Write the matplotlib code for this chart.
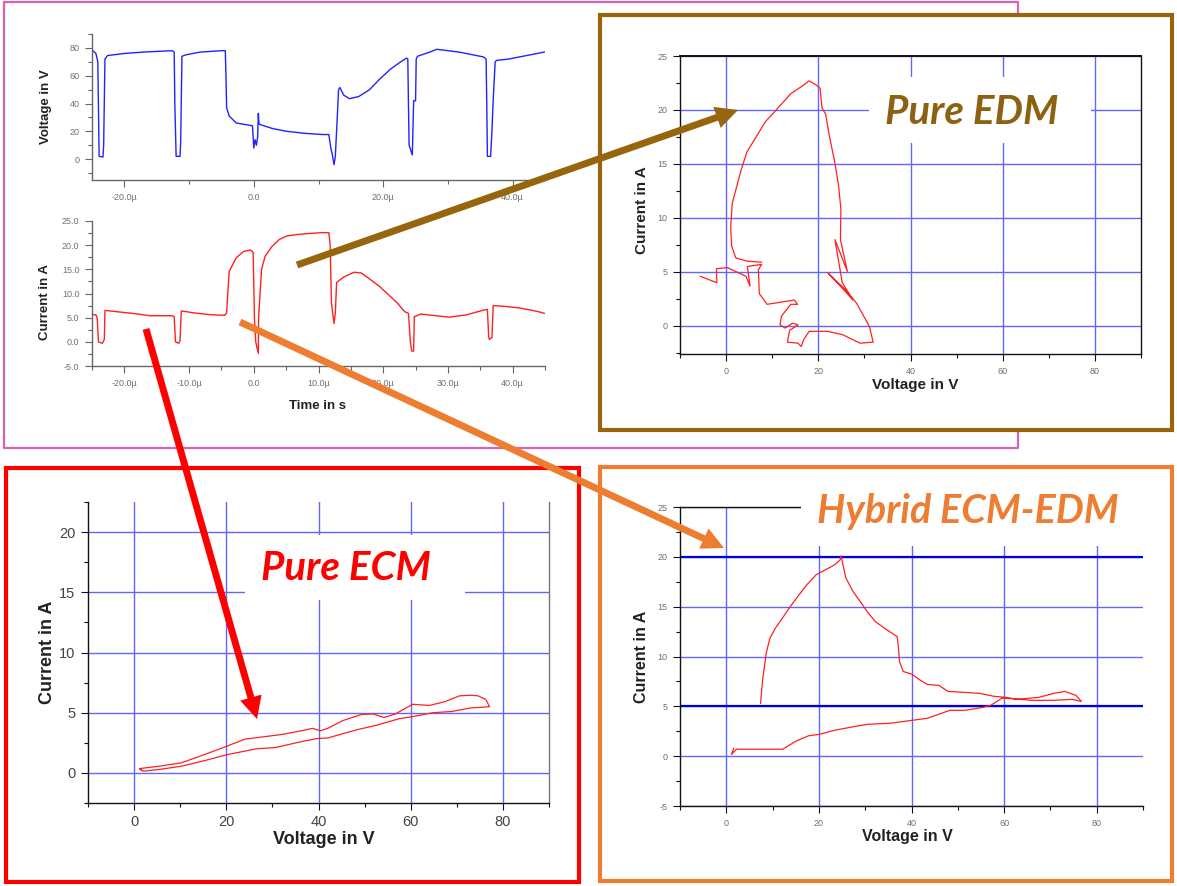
import matplotlib
matplotlib.use("Agg")
import matplotlib.pyplot as plt
from matplotlib.patches import Rectangle, FancyArrowPatch, ArrowStyle
from matplotlib.lines import Line2D
from matplotlib.ticker import MultipleLocator

plt.rcParams["font.family"] = ["Liberation Sans", "DejaVu Sans"]
plt.rcParams["axes.unicode_minus"] = False

W, H = 1177, 886

# --- time traces (t in microseconds) ---
t_volt = [-25.0, -24.4, -24.1, -23.9, -23.3, -23.2, -23.0, -22.6, -20.0, -17.1, -12.6, -12.3, -12.2, -12.0,
          -11.4, -11.3, -11.1, -10.5, -8.3, -4.9, -4.4, -4.3, -4.2, -3.8, -2.7, -1.0, -0.2, 0.0, 0.2, 0.4,
          0.6, 0.7, 0.8, 0.9, 2.9, 5.1, 7.8, 10.6, 11.6, 11.9, 12.1, 12.4, 12.6, 12.9, 13.1, 13.3, 13.9,
          14.8, 16.2, 17.9, 19.5, 21.2, 22.8, 23.6, 23.8, 23.9, 24.0, 24.5, 24.7, 25.0, 25.1, 25.3, 27.2,
          28.3, 31.7, 35.5, 35.9, 36.0, 36.1, 36.6, 36.8, 37.0, 37.3, 37.5, 39.4, 43.8, 44.9]
volt = [78.5, 76, 70, 2, 1.5, 10, 72, 74.5, 76, 77, 78, 77, 40, 2,
        2, 12, 74, 75, 77, 78, 78, 60, 37, 31, 26, 24.6, 24, 8, 14, 10,
        16, 33, 26, 25, 22, 20, 18.6, 17.7, 17.7, 8, 4, -4, 2, 30, 50, 51.5, 46,
        43.5, 45, 50, 57.8, 65, 70.3, 72.7, 72, 40, 10, 3, 42, 42, 72, 74, 77,
        79, 77, 73.5, 72, 40, 2, 2, 20, 43, 70, 71, 72, 76, 77]

t_curr = [-25.0, -24.4, -24.2, -24.0, -23.4, -23.1, -23.0, -20.9, -18.2, -16.0, -12.6, -12.3, -12.1, -11.6,
          -11.4, -11.2, -9.3, -6.6, -4.5, -4.2, -4.0, -3.8, -2.7, -1.6, -0.5, -0.1, 0.1, 0.3, 0.7, 0.75,
          1.2, 1.75, 2.85, 3.97, 5.1, 6.7, 8.4, 10.6, 11.6, 11.8, 12.0, 12.4, 12.6, 12.8, 13.9, 15.5, 16.6,
          17.7, 19.4, 21.1, 22.2, 23.3, 23.9, 24.2, 24.4, 24.7, 24.8, 25.8, 30.2, 32.9, 35.6, 36.1, 36.3,
          36.4, 36.8, 37.0, 38.3, 41.1, 43.8, 44.9]
curr = [5.6, 5.6, 5.0, 0.0, -0.3, 0.5, 6.5, 6.2, 5.8, 5.4, 5.4, 5.2, 0.0, -0.3,
        0.2, 6.4, 6.0, 5.6, 5.5, 6.0, 10.4, 14.6, 17.4, 18.7, 19.0, 18.5, 5.0, 0.0, -2.4, 5.2,
        15.0, 17.7, 19.8, 21.2, 21.9, 22.2, 22.4, 22.6, 22.6, 20.0, 8.0, 3.8, 6.0, 12.3, 13.4, 14.4, 14.25,
        13.2, 11.5, 9.4, 8.0, 6.25, 5.9, 0.0, -1.9, -1.9, 5.2, 5.75, 5.1, 5.6, 6.6, 6.7, 1.0,
        0.5, 0.9, 7.5, 7.4, 7.0, 6.3, 5.9]

# --- I-V loops ---
edm_v = [-5.6, -2.0, -2.1, 0.3, 4.3, 5.2, 4.6, 7.7, 7.0, 7.2, 8.9, 14.8, 15.5, 14.0, 12.0, 11.7, 12.8, 14.4,
         15.6, 13.8, 13.3, 15.6, 16.3, 16.8, 18.0, 22.0, 25.2, 29.1, 31.9, 31.1, 28.3, 26.0, 22.1, 25.2,
         27.5, 25.2, 23.6, 26.3, 24.8, 24.9, 24.4, 23.6, 22.4, 21.6, 20.8, 20.4, 19.6, 18.0, 16.8, 14.0,
         11.7, 8.5, 4.5, 3.3, 1.35, 1.0, 1.2, 2.1, 4.5, 7.7]
edm_i = [4.6, 4.0, 5.3, 5.4, 4.6, 3.7, 5.5, 5.7, 5.2, 3.0, 2.0, 2.4, 2.0, 2.0, 0.9, 0.1, -0.2, 0.25,
         0.1, -0.4, -1.5, -1.6, -1.9, -1.3, -0.5, -0.5, -0.8, -1.6, -1.5, -0.06, 2.1, 3.3, 4.9, 3.5,
         2.4, 4.0, 8.0, 5.05, 8.0, 10.8, 13.0, 15.1, 17.6, 19.6, 20.2, 22.0, 22.3, 22.7, 22.3, 21.5,
         20.4, 18.9, 16.1, 14.5, 11.4, 9.2, 7.4, 6.3, 6.0, 5.9]

ecm_v = [1.2, 5.3, 10.2, 15.1, 20.0, 24.0, 28.1, 32.2, 36.3, 38.7, 40.4, 42.0, 45.3, 49.3, 51.8, 54.2,
         56.7, 60.4, 64.0, 67.3, 70.6, 73.0, 74.6, 76.3, 77.1, 75.4, 73.0, 68.9, 64.8, 60.8, 57.5, 52.6,
         48.5, 42.0, 39.6, 36.3, 30.6, 26.5, 20.0, 15.1, 10.2, 5.3, 2.0, 1.2, 1.6]
ecm_i = [0.36, 0.55, 0.83, 1.5, 2.2, 2.8, 3.0, 3.2, 3.5, 3.7, 3.5, 3.7, 4.35, 4.85, 4.9, 4.6,
         4.9, 5.7, 5.6, 5.9, 6.4, 6.45, 6.4, 6.1, 5.5, 5.45, 5.4, 5.1, 5.0, 4.7, 4.5, 3.96,
         3.6, 2.9, 2.85, 2.6, 2.1, 2.0, 1.5, 1.0, 0.55, 0.28, 0.14, 0.36, 0.2]

hyb_v = [7.4, 7.8, 8.3, 8.6, 9.4, 10.6, 12.2, 13.8, 15.4, 17.4, 19.4, 21.4, 23.4, 24.6, 24.8, 25.2, 25.8,
         27.4, 29.4, 30.6, 32.2, 34.6, 36.9, 37.2, 37.4, 38.2, 40.2, 41.8, 43.4, 45.9, 47.9, 51.5, 54.7,
         57.9, 60.3, 62.7, 67.5, 70.7, 73.1, 75.5, 76.7, 74.7, 70.7, 65.9, 61.1, 59.5, 57.1, 55.5, 51.5,
         48.3, 43.4, 40.2, 35.4, 30.6, 27.4, 23.4, 20.2, 17.8, 15.0, 12.2, 7.4, 2.2, 1.1, 1.6]
hyb_i = [5.3, 7.5, 9.2, 10.3, 11.8, 12.85, 13.9, 15.0, 16.0, 17.2, 18.2, 18.7, 19.2, 19.7, 20.1, 19.2, 17.9,
         16.5, 15.2, 14.4, 13.5, 12.7, 12.0, 10.8, 9.5, 8.5, 8.2, 7.65, 7.2, 7.1, 6.5, 6.4, 6.3,
         6.0, 5.9, 5.7, 5.9, 6.3, 6.5, 6.1, 5.5, 5.7, 5.6, 5.6, 5.8, 5.8, 5.1, 4.9, 4.6,
         4.6, 3.8, 3.6, 3.3, 3.2, 2.95, 2.6, 2.2, 2.05, 1.5, 0.7, 0.7, 0.7, 0.17, 0.77]

time_ticks_v = [-20, 0, 20, 40]
time_labels_v = ["-20.0\u00b5", "0.0", "20.0\u00b5", "40.0\u00b5"]
time_ticks_i = [-20, -10, 0, 10, 20, 30, 40]
time_labels_i = ["-20.0\u00b5", "-10.0\u00b5", "0.0", "10.0\u00b5", "20.0\u00b5", "30.0\u00b5", "40.0\u00b5"]
curr_ticks = [-5, 0, 5, 10, 15, 20, 25]
curr_labels = ["-5.0", "0.0", "5.0", "10.0", "15.0", "20.0", "25.0"]

BLUE_GRID = "#6464ff"
MAGENTA = "#d665b4"
BROWN = "#97660c"
ORANGE = "#ed7d31"
RED = "#ff0000"

fig = plt.figure(figsize=(W / 100, H / 100), dpi=100)
fig.patch.set_facecolor("white")


def box(l, t, r, b):
    return [l / W, 1 - b / H, (r - l) / W, (b - t) / H]


def style(ax, labelsize=6.5, labelcolor="#707070", spine="#444444"):
    for s in ax.spines.values():
        s.set_color(spine)
        s.set_linewidth(1.0)
    ax.tick_params(which="both", direction="out", color=spine, width=0.8,
                   labelsize=labelsize, labelcolor=labelcolor, pad=4)
    ax.tick_params(which="major", length=5)
    ax.tick_params(which="minor", length=3)
    ax.set_facecolor("white")


def flabel(x, y, s, size, rot=0, color="#222222"):
    fig.text(x / W, 1 - y / H, s, ha="center", va="center", rotation=rot, fontsize=size,
             fontweight="bold", color=color, zorder=4)


def cover(l, t, r, b):
    fig.add_artist(Rectangle((l / W, 1 - b / H), (r - l) / W, (b - t) / H, transform=fig.transFigure,
                             facecolor="white", edgecolor="none", zorder=3))


def frame(l, t, r, b, color, lw):
    fig.add_artist(Rectangle((l / W, 1 - b / H), (r - l) / W, (b - t) / H, transform=fig.transFigure,
                             fill=False, edgecolor=color, lw=lw, zorder=6))


def arrow(x0, y0, x1, y1, color):
    a = FancyArrowPatch((x0 / W, 1 - y0 / H), (x1 / W, 1 - y1 / H), transform=fig.transFigure,
                        arrowstyle=ArrowStyle.Simple(head_length=16, head_width=16, tail_width=5),
                        mutation_scale=1, facecolor=color, edgecolor="none", lw=0,
                        shrinkA=0, shrinkB=0, zorder=10)
    fig.add_artist(a)


# magenta outline around the time traces (right edge hidden behind the EDM box)
mx = [1018, 1018, 4, 4, 1018, 1018]
my = [15, 2, 2, 448, 448, 430]
fig.add_artist(Line2D([x / W for x in mx], [1 - y / H for y in my], transform=fig.transFigure,
                      color=MAGENTA, lw=1.6, zorder=1))

# --- voltage vs time ---
ax_v = fig.add_axes(box(92, 34, 545, 180))
ax_v.plot(t_volt, volt, color="#2222ff", lw=1.0)
ax_v.set_xlim(-25, 45)
ax_v.set_ylim(-15, 90)
ax_v.set_xticks(time_ticks_v, time_labels_v)
ax_v.set_yticks([0, 20, 40, 60, 80])
ax_v.xaxis.set_minor_locator(MultipleLocator(10))
ax_v.yaxis.set_minor_locator(MultipleLocator(10))
ax_v.spines[["top", "right"]].set_visible(False)
style(ax_v, spine="#666666")

# --- current vs time ---
ax_i = fig.add_axes(box(92, 221, 545, 366))
ax_i.plot(t_curr, curr, color="#ff2020", lw=1.0)
ax_i.set_xlim(-25, 45)
ax_i.set_ylim(-5, 25)
ax_i.set_xticks(time_ticks_i, time_labels_i)
ax_i.set_yticks(curr_ticks, curr_labels)
ax_i.xaxis.set_minor_locator(MultipleLocator(5))
ax_i.yaxis.set_minor_locator(MultipleLocator(2.5))
ax_i.spines[["top", "right"]].set_visible(False)
style(ax_i, spine="#666666")

flabel(46, 107, "Voltage in V", 9.5, rot=90)
flabel(45, 302, "Current in A", 9.5, rot=90)
flabel(317, 406, "Time in s", 9.5)

# --- Pure EDM ---
ax_e = fig.add_axes(box(680, 56, 1141, 354))
ax_e.plot(edm_v, edm_i, color="#ff2020", lw=0.9)
ax_e.set_xlim(-10, 90)
ax_e.set_ylim(-2.6, 25)
ax_e.set_xticks([0, 20, 40, 60, 80])
ax_e.set_yticks([0, 5, 10, 15, 20, 25])
ax_e.xaxis.set_minor_locator(MultipleLocator(10))
ax_e.yaxis.set_minor_locator(MultipleLocator(2.5))
ax_e.grid(True, which="major", color=BLUE_GRID, lw=1.0)
style(ax_e, spine="#111111")
ax_e.spines["top"].set_linewidth(1.4)
flabel(642, 210, "Current in A", 11, rot=90)
flabel(915, 385, "Voltage in V", 11)

# --- Pure ECM ---
ax_c = fig.add_axes(box(88, 502, 549, 803))
ax_c.plot(ecm_v, ecm_i, color="#ff2020", lw=0.9)
ax_c.set_xlim(-10, 90)
ax_c.set_ylim(-2.5, 22.5)
ax_c.set_xticks([0, 20, 40, 60, 80])
ax_c.set_yticks([0, 5, 10, 15, 20])
ax_c.xaxis.set_minor_locator(MultipleLocator(10))
ax_c.yaxis.set_minor_locator(MultipleLocator(2.5))
ax_c.grid(True, which="major", color=BLUE_GRID, lw=1.0)
ax_c.spines["top"].set_visible(False)
style(ax_c, labelsize=10.5, labelcolor="#444444", spine="#111111")
for lab in ax_c.get_xticklabels() + ax_c.get_yticklabels():
    lab.set_family(["Liberation Sans Narrow", "Liberation Sans"])
ax_c.spines["right"].set_color("#777777")
flabel(47, 652, "Current in A", 13, rot=90)
flabel(324, 839, "Voltage in V", 13)

# --- Hybrid ECM-EDM ---
ax_h = fig.add_axes(box(680, 507, 1143, 806))
ax_h.plot(hyb_v, hyb_i, color="#ff2020", lw=0.9)
ax_h.set_xlim(-10, 90)
ax_h.set_ylim(-5, 25)
ax_h.set_xticks([0, 20, 40, 60, 80])
ax_h.set_yticks([-5, 0, 5, 10, 15, 20, 25])
ax_h.xaxis.set_minor_locator(MultipleLocator(10))
ax_h.yaxis.set_minor_locator(MultipleLocator(2.5))
ax_h.grid(True, which="major", color=BLUE_GRID, lw=1.0)
for yy in (20, 5):
    ax_h.axhline(yy, color="#0000dd", lw=1.6, zorder=1.6)
ax_h.spines["right"].set_visible(False)
style(ax_h, spine="#111111")
flabel(641, 657, "Current in A", 11.5, rot=90)
flabel(907, 836, "Voltage in V", 11.5)

# white boxes behind the big labels (they hide grid lines)
cover(869, 77, 1091, 143)
cover(245, 535, 465, 600)
cover(801, 478, 1160, 546)

title_font = dict(family="Lato", fontweight="bold", style="italic", ha="center", va="center", zorder=5)
fig.text(972 / W, 1 - 112 / H, "Pure EDM", fontsize=29, color="#8c6210", **title_font)
fig.text(346 / W, 1 - 569 / H, "Pure ECM", fontsize=29, color=RED, **title_font)
fig.text(968 / W, 1 - 512 / H, "Hybrid ECM-EDM", fontsize=28.5, color=ORANGE, **title_font)

# frames
frame(600, 15, 1172, 430, BROWN, 3.0)
frame(6, 468, 579, 882, RED, 3.0)
frame(600, 467, 1172, 881, ORANGE, 3.0)

# arrows
arrow(297, 265, 738, 110, BROWN)
arrow(240, 322, 724, 548, ORANGE)
arrow(146, 329, 257, 719, RED)

fig.savefig("out.png", dpi=100, facecolor="white")
